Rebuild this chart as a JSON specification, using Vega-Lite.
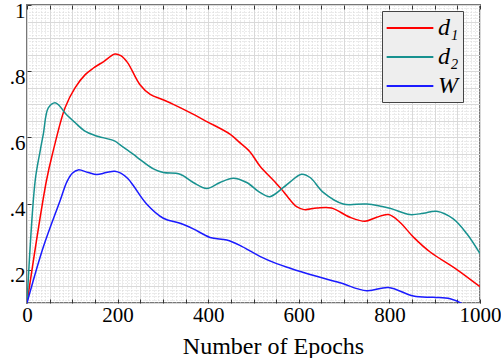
{
  "$schema": "https://vega.github.io/schema/vega-lite/v6.json",
  "width": 453,
  "height": 298,
  "autosize": {"type": "none"},
  "padding": {"left": 27, "top": 5, "right": 21, "bottom": 55},
  "background": "white",
  "config": {
    "view": {"stroke": "#777777", "strokeWidth": 2},
    "font": "Liberation Serif",
    "axis": {"domain": false}
  },
  "data": {
    "values": [
      {"s": "d₁", "e": 0, "v": 0.1}, {"s": "d₁", "e": 43, "v": 0.47}, {"s": "d₁", "e": 58, "v": 0.56}, {"s": "d₁", "e": 84, "v": 0.69}, {"s": "d₁", "e": 106, "v": 0.75}, {"s": "d₁", "e": 128, "v": 0.789}, {"s": "d₁", "e": 146, "v": 0.809}, {"s": "d₁", "e": 170, "v": 0.83}, {"s": "d₁", "e": 194, "v": 0.852}, {"s": "d₁", "e": 207, "v": 0.847}, {"s": "d₁", "e": 222, "v": 0.826}, {"s": "d₁", "e": 249, "v": 0.76}, {"s": "d₁", "e": 272, "v": 0.73}, {"s": "d₁", "e": 300, "v": 0.714}, {"s": "d₁", "e": 323, "v": 0.70}, {"s": "d₁", "e": 360, "v": 0.675}, {"s": "d₁", "e": 397, "v": 0.648}, {"s": "d₁", "e": 448, "v": 0.61}, {"s": "d₁", "e": 466, "v": 0.589}, {"s": "d₁", "e": 492, "v": 0.557}, {"s": "d₁", "e": 514, "v": 0.514}, {"s": "d₁", "e": 547, "v": 0.466}, {"s": "d₁", "e": 566, "v": 0.437}, {"s": "d₁", "e": 581, "v": 0.411}, {"s": "d₁", "e": 596, "v": 0.39}, {"s": "d₁", "e": 612, "v": 0.382}, {"s": "d₁", "e": 640, "v": 0.387}, {"s": "d₁", "e": 672, "v": 0.387}, {"s": "d₁", "e": 713, "v": 0.359}, {"s": "d₁", "e": 746, "v": 0.347}, {"s": "d₁", "e": 772, "v": 0.359}, {"s": "d₁", "e": 798, "v": 0.367}, {"s": "d₁", "e": 823, "v": 0.344}, {"s": "d₁", "e": 853, "v": 0.299}, {"s": "d₁", "e": 890, "v": 0.254}, {"s": "d₁", "e": 949, "v": 0.201}, {"s": "d₁", "e": 1000, "v": 0.149},
      {"s": "d₂", "e": 0, "v": 0.1}, {"s": "d₂", "e": 18, "v": 0.469}, {"s": "d₂", "e": 29, "v": 0.559}, {"s": "d₂", "e": 36, "v": 0.61}, {"s": "d₂", "e": 47, "v": 0.689}, {"s": "d₂", "e": 62, "v": 0.705}, {"s": "d₂", "e": 72, "v": 0.695}, {"s": "d₂", "e": 84, "v": 0.674}, {"s": "d₂", "e": 106, "v": 0.645}, {"s": "d₂", "e": 128, "v": 0.619}, {"s": "d₂", "e": 150, "v": 0.606}, {"s": "d₂", "e": 194, "v": 0.589}, {"s": "d₂", "e": 205, "v": 0.578}, {"s": "d₂", "e": 235, "v": 0.549}, {"s": "d₂", "e": 249, "v": 0.534}, {"s": "d₂", "e": 279, "v": 0.505}, {"s": "d₂", "e": 301, "v": 0.494}, {"s": "d₂", "e": 338, "v": 0.489}, {"s": "d₂", "e": 367, "v": 0.464}, {"s": "d₂", "e": 397, "v": 0.446}, {"s": "d₂", "e": 426, "v": 0.464}, {"s": "d₂", "e": 455, "v": 0.477}, {"s": "d₂", "e": 485, "v": 0.464}, {"s": "d₂", "e": 514, "v": 0.434}, {"s": "d₂", "e": 536, "v": 0.421}, {"s": "d₂", "e": 566, "v": 0.449}, {"s": "d₂", "e": 581, "v": 0.466}, {"s": "d₂", "e": 606, "v": 0.489}, {"s": "d₂", "e": 625, "v": 0.479}, {"s": "d₂", "e": 654, "v": 0.434}, {"s": "d₂", "e": 698, "v": 0.399}, {"s": "d₂", "e": 750, "v": 0.399}, {"s": "d₂", "e": 801, "v": 0.386}, {"s": "d₂", "e": 845, "v": 0.367}, {"s": "d₂", "e": 875, "v": 0.371}, {"s": "d₂", "e": 904, "v": 0.377}, {"s": "d₂", "e": 941, "v": 0.354}, {"s": "d₂", "e": 971, "v": 0.309}, {"s": "d₂", "e": 1000, "v": 0.249},
      {"s": "W", "e": 0, "v": 0.1}, {"s": "W", "e": 36, "v": 0.269}, {"s": "W", "e": 73, "v": 0.409}, {"s": "W", "e": 88, "v": 0.466}, {"s": "W", "e": 100, "v": 0.492}, {"s": "W", "e": 113, "v": 0.502}, {"s": "W", "e": 135, "v": 0.494}, {"s": "W", "e": 154, "v": 0.488}, {"s": "W", "e": 175, "v": 0.494}, {"s": "W", "e": 194, "v": 0.498}, {"s": "W", "e": 207, "v": 0.492}, {"s": "W", "e": 223, "v": 0.475}, {"s": "W", "e": 235, "v": 0.454}, {"s": "W", "e": 264, "v": 0.399}, {"s": "W", "e": 301, "v": 0.356}, {"s": "W", "e": 338, "v": 0.341}, {"s": "W", "e": 367, "v": 0.324}, {"s": "W", "e": 404, "v": 0.298}, {"s": "W", "e": 441, "v": 0.29}, {"s": "W", "e": 470, "v": 0.274}, {"s": "W", "e": 514, "v": 0.241}, {"s": "W", "e": 551, "v": 0.219}, {"s": "W", "e": 581, "v": 0.205}, {"s": "W", "e": 625, "v": 0.186}, {"s": "W", "e": 691, "v": 0.161}, {"s": "W", "e": 750, "v": 0.137}, {"s": "W", "e": 798, "v": 0.147}, {"s": "W", "e": 853, "v": 0.121}, {"s": "W", "e": 897, "v": 0.117}, {"s": "W", "e": 934, "v": 0.113}, {"s": "W", "e": 963, "v": 0.096}, {"s": "W", "e": 985, "v": 0.07}
    ]
  },
  "resolve": {"axis": {"x": "independent", "y": "independent"}},
  "layer": [
    {
      "mark": {"type": "line", "opacity": 0},
      "encoding": {
        "x": {"field": "e", "type": "quantitative", "scale": {"domain": [0, 1000], "nice": false},
          "axis": {"orient": "top", "title": null, "values": [0,10,20,30,40,60,70,80,90,110,120,130,140,160,170,180,190,210,220,230,240,260,270,280,290,310,320,330,340,360,370,380,390,410,420,430,440,460,470,480,490,510,520,530,540,560,570,580,590,610,620,630,640,660,670,680,690,710,720,730,740,760,770,780,790,810,820,830,840,860,870,880,890,910,920,930,940,960,970,980,990],
            "grid": true, "gridColor": "#d6d6d6", "gridDash": [1, 2], "gridWidth": 1, "ticks": false, "labels": false}},
        "y": {"field": "v", "type": "quantitative", "scale": {"domain": [0.1, 1], "nice": false, "zero": false},
          "axis": {"orient": "right", "title": null, "values": [0.11,0.12,0.13,0.14,0.16,0.17,0.18,0.19,0.21,0.22,0.23,0.24,0.26,0.27,0.28,0.29,0.31,0.32,0.33,0.34,0.36,0.37,0.38,0.39,0.41,0.42,0.43,0.44,0.46,0.47,0.48,0.49,0.51,0.52,0.53,0.54,0.56,0.57,0.58,0.59,0.61,0.62,0.63,0.64,0.66,0.67,0.68,0.69,0.71,0.72,0.73,0.74,0.76,0.77,0.78,0.79,0.81,0.82,0.83,0.84,0.86,0.87,0.88,0.89,0.91,0.92,0.93,0.94,0.96,0.97,0.98,0.99],
            "grid": true, "gridColor": "#d6d6d6", "gridDash": [1, 2], "gridWidth": 1, "ticks": false, "labels": false}},
        "detail": {"field": "s"}
      }
    },
    {
      "mark": {"type": "line", "opacity": 0},
      "encoding": {
        "x": {"field": "e", "type": "quantitative", "scale": {"domain": [0, 1000], "nice": false},
          "axis": {"orient": "top", "title": null, "values": [0,50,100,150,200,250,300,350,400,450,500,550,600,650,700,750,800,850,900,950,1000],
            "grid": true, "gridColor": "#d9d9d9", "gridWidth": 1, "ticks": true, "tickSize": -4, "tickColor": "#333333", "labels": false}},
        "y": {"field": "v", "type": "quantitative", "scale": {"domain": [0.1, 1], "nice": false, "zero": false},
          "axis": {"orient": "right", "title": null, "values": [0.1,0.15,0.2,0.25,0.3,0.35,0.4,0.45,0.5,0.55,0.6,0.65,0.7,0.75,0.8,0.85,0.9,0.95,1],
            "grid": true, "gridColor": "#d9d9d9", "gridWidth": 1, "ticks": false, "labels": false}},
        "detail": {"field": "s"}
      }
    },
    {
      "mark": {"type": "line", "interpolate": "catmull-rom", "strokeWidth": 1.5, "clip": true},
      "encoding": {
        "x": {"field": "e", "type": "quantitative", "scale": {"domain": [0, 1000], "nice": false},
          "axis": {"orient": "bottom", "title": "Number of Epochs", "titleFontSize": 24, "titleFontWeight": "normal", "titleColor": "black", "titleFont": "Liberation Serif",
            "titleX": 246, "titleY": 50, "titleBaseline": "alphabetic", "titleAlign": "center",
            "values": [0,50,100,150,200,250,300,350,400,450,500,550,600,650,700,750,800,850,900,950,1000],
            "labelExpr": "datum.value % 200 === 0 ? datum.label : ''", "format": "d",
            "grid": false, "ticks": true, "tickSize": -4, "tickColor": "#333333", "labelFontSize": 21, "labelColor": "black", "labelPadding": 5, "labelFlush": false, "labelOverlap": false}},
        "y": {"field": "v", "type": "quantitative", "scale": {"domain": [0.1, 1], "nice": false, "zero": false},
          "axis": {"orient": "left", "title": null, "values": [0.2, 0.4, 0.6, 0.8, 1],
            "labelExpr": "datum.value == 1 ? '1' : replace(format(datum.value, '.1f'), '0.', '.')",
            "grid": false, "ticks": true, "tickSize": -4, "tickColor": "#333333", "labelFontSize": 21, "labelColor": "black", "labelPadding": 6, "labelOffset": 6, "labelFlush": false, "labelOverlap": false}},
        "color": {"field": "s", "type": "nominal", "scale": {"domain": ["d₁", "d₂", "W"], "range": ["#ff0000", "#17918f", "#1a1aff"]},
          "legend": {"title": null, "orient": "none", "legendX": 355, "legendY": 6, "fillColor": "#eeeeee", "strokeColor": "#444444", "padding": 4,
            "symbolType": "M-2,0H2", "symbolSize": 545, "symbolStrokeWidth": 2, "symbolFillColor": "transparent", "symbolOffset": 11,
            "labelFont": "Liberation Serif", "labelFontStyle": "italic", "labelFontSize": 24, "labelColor": "black", "labelOffset": 15, "rowPadding": 4}}
      }
    }
  ]
}
